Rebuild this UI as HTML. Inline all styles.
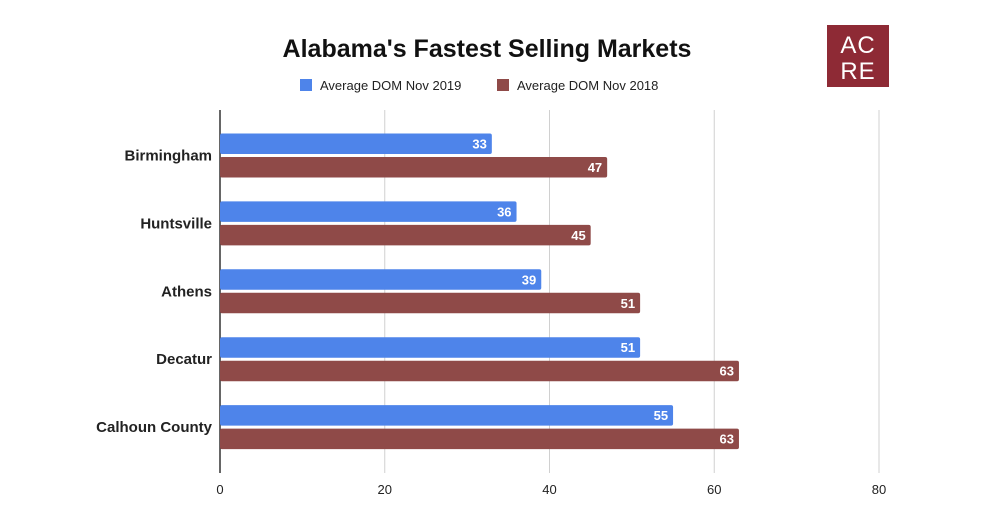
<!DOCTYPE html>
<html><head><meta charset="utf-8"><style>
body{margin:0;background:#fff;}
svg{display:block;font-family:"Liberation Sans",sans-serif;}
</style></head><body>
<svg id="chart" width="1000" height="523">
<text x="487" y="57" text-anchor="middle" font-size="25" font-weight="bold" fill="#111">Alabama's Fastest Selling Markets</text>
<g>
<rect x="827" y="25" width="62" height="62" fill="#8e2a35"/>
<text x="858" y="53" text-anchor="middle" font-size="24" fill="#fff" letter-spacing="1">AC</text>
<text x="858" y="79" text-anchor="middle" font-size="24" fill="#fff" letter-spacing="1">RE</text>
</g>
<g>
<g><rect x="300" y="79" width="12" height="12" fill="#4e84ea"/><text x="320" y="90" font-size="13" fill="#222">Average DOM Nov 2019</text></g>
<g><rect x="497" y="79" width="12" height="12" fill="#8f4a48"/><text x="517" y="90" font-size="13" fill="#222">Average DOM Nov 2018</text></g>
</g>
<g id="grid"></g><g id="bars"></g><g id="labels"></g>
</svg>
<script>
const categories=["Birmingham","Huntsville","Athens","Decatur","Calhoun County"];
const series2019=[33,36,39,51,55];
const series2018=[47,45,51,63,63];
const ticks=[0,20,40,60,80];
const NS="http://www.w3.org/2000/svg";
const x0=220,x1=879,xmax=80,plotTop=110,plotBot=473;
const xs=v=>x0+v*(x1-x0)/xmax;
const yc=i=>155.5+i*67.9;
function el(t,a,p){const e=document.createElementNS(NS,t);for(const k in a)e.setAttribute(k,a[k]);p.appendChild(e);return e;}
const g=document.getElementById('grid'),b=document.getElementById('bars'),l=document.getElementById('labels');
ticks.forEach(t=>{
 if(t>0){const ln=el('line',{x1:xs(t),x2:xs(t),y1:plotTop,y2:plotBot,stroke:'#d0d0d0','stroke-width':1},g);
 
 }
 const tx=el('text',{x:xs(t),y:494,'text-anchor':'middle','font-size':13,fill:'#222'},l);tx.textContent=t;
 
 
});
const ax=el('line',{x1:x0,x2:x0,y1:plotTop,y2:plotBot,stroke:'#333','stroke-width':1.5},g);


categories.forEach((c,i)=>{
 const y=yc(i);
 const ct=el('text',{x:212,y:y+5,'text-anchor':'end','font-size':15,'font-weight':'bold',fill:'#222'},l);ct.textContent=c;
 
 
 [[series2019,'#4e84ea',y-22,'2019'],[series2018,'#8f4a48',y+1.5,'2018']].forEach(([s,col,yy,nm])=>{
  const r=el('rect',{x:x0,y:yy,width:xs(s[i])-x0,height:20.5,fill:col,rx:2},b);
  
  
  const vt=el('text',{x:xs(s[i])-5,y:yy+15,'text-anchor':'end','font-size':13,'font-weight':'bold',fill:'#fff'},l);vt.textContent=s[i];
  
  
 });
});
</script>
</body></html>
